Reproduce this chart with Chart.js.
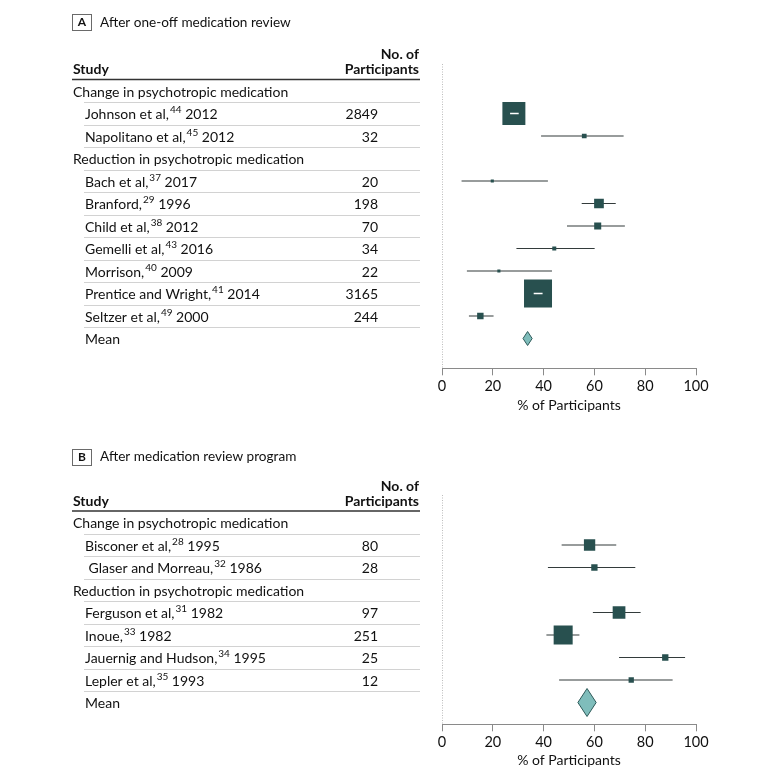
<!DOCTYPE html>
<html><head><meta charset="utf-8">
<script src="https://cdn.jsdelivr.net/npm/chart.js@4.4.1/dist/chart.umd.min.js"></script>
<style>
html,body{margin:0;padding:0;background:#fff;}
#wrap{position:relative;width:780px;height:780px;overflow:hidden;}
canvas{position:absolute;left:0;}
</style></head><body>
<div id="wrap">
<canvas id="cA" width="780" height="432" style="top:0;width:780px;height:432px"></canvas>
<canvas id="cB" width="780" height="348" style="top:432px;width:780px;height:348px"></canvas>
</div>
<script>
// ---------- Panel A data ----------
const groupsA = ['Change in psychotropic medication', 'Reduction in psychotropic medication'];
const studiesA = ['Johnson et al,', 'Napolitano et al,', 'Bach et al,', 'Branford,', 'Child et al,', 'Gemelli et al,', 'Morrison,', 'Prentice and Wright,', 'Seltzer et al,'];
const refsA = ['44', '45', '37', '29', '38', '43', '40', '41', '49'];
const yearsA = ['2012', '2012', '2017', '1996', '2012', '2016', '2009', '2014', '2000'];
const groupOfA = [0, 0, 1, 1, 1, 1, 1, 1, 1];
const participantsA = [2849, 32, 20, 198, 70, 34, 22, 3165, 244];
const estimateA = [28.3, 56.0, 19.8, 61.8, 61.3, 44.2, 22.4, 37.8, 15.1];
const lowerA = [26.8, 39.0, 7.7, 55.0, 49.2, 29.3, 9.8, 36.1, 10.6];
const upperA = [30.2, 71.5, 41.7, 68.4, 72.0, 60.1, 43.3, 39.6, 20.3];
const weightA = [33.0, 1.4, 0.6, 5.9, 3.1, 1.0, 0.6, 49.0, 2.6];
const meanA = [33.7, 31.9, 35.5]; // estimate, lower, upper

// ---------- Panel B data ----------
const groupsB = ['Change in psychotropic medication', 'Reduction in psychotropic medication'];
const studiesB = ['Bisconer et al,', ' Glaser and Morreau,', 'Ferguson et al,', 'Inoue,', 'Jauernig and Hudson,', 'Lepler et al,'];
const refsB = ['28', '32', '31', '33', '34', '35'];
const yearsB = ['1995', '1986', '1982', '1982', '1995', '1993'];
const groupOfB = [0, 0, 1, 1, 1, 1];
const participantsB = [80, 28, 97, 251, 25, 12];
const estimateB = [58.1, 60.0, 69.7, 47.7, 87.9, 74.5];
const lowerB = [47.1, 41.7, 59.4, 41.1, 69.7, 46.1];
const upperB = [68.6, 76.1, 78.2, 54.1, 95.7, 90.8];
const weightB = [8.0, 2.5, 10.1, 22.6, 2.5, 1.75];
const meanB = [57.1, 53.5, 60.7];

const xTicks = [0, 20, 40, 60, 80, 100];

// ---------- styling ----------
const FONT = 'Lato, "Liberation Sans", Arial, sans-serif';
const TXT = '#111111';
const BOX = '#28504f';
const CI = '#333b3b';
const DIA_FILL = '#7fbdbb';
const DIA_LINE = '#2e5a59';
const STEP = 22.5;
const PLOT_L = 442, PLOT_R = 696;

function makePanel(id, cfg, d) {
  const rows = [];
  const rowOf = [];
  d.groups.forEach((g, gi) => {
    rows.push({ kind: 'group', label: g });
    d.studies.forEach((s, si) => {
      if (d.groupOf[si] === gi) { rowOf[si] = rows.length; rows.push({ kind: 'study', idx: si }); }
    });
  });
  const meanRow = rows.length;
  rows.push({ kind: 'mean' });

  const ymin = -(cfg.row0 - cfg.top) / STEP;
  const ymax = ymin + (cfg.bottom - cfg.top) / STEP;
  const pxPerUnit = (PLOT_R - PLOT_L) / 100;

  const datasets = [];
  datasets.push({ type: 'line', data: [{ x: 0, y: ymin }, { x: 0, y: ymax }], borderColor: '#7d7d7d', borderWidth: 1, borderDash: [1, 1.5], pointRadius: 0, order: 5 });
  d.studies.forEach((s, si) => {
    datasets.push({ type: 'line', data: [{ x: d.lower[si], y: rowOf[si] }, { x: d.upper[si], y: rowOf[si] }], borderColor: CI, borderWidth: 1.2, pointRadius: 0, order: 4 });
  });
  const sides = d.weight.map(w => 4 * Math.sqrt(w));
  datasets.push({
    type: 'scatter',
    data: d.studies.map((s, si) => ({ x: d.estimate[si], y: rowOf[si] })),
    pointStyle: 'rect',
    pointRadius: sides.map(s => s / Math.SQRT2),
    pointHoverRadius: sides.map(s => s / Math.SQRT2),
    backgroundColor: BOX, borderColor: BOX, borderWidth: 0, order: 3
  });
  d.studies.forEach((s, si) => {
    const half = sides[si] / 2 / pxPerUnit;
    if (d.lower[si] > d.estimate[si] - half && d.upper[si] < d.estimate[si] + half) {
      datasets.push({ type: 'line', data: [{ x: d.lower[si], y: rowOf[si] }, { x: d.upper[si], y: rowOf[si] }], borderColor: '#ffffff', borderWidth: 1.6, pointRadius: 0, order: 1 });
    }
  });
  const h = cfg.diamondHalfPx / STEP;
  const [m, mlo, mhi] = d.mean;
  datasets.push({
    type: 'line',
    data: [{ x: mlo, y: meanRow }, { x: m, y: meanRow - h }, { x: mhi, y: meanRow }, { x: m, y: meanRow + h }, { x: mlo, y: meanRow }],
    borderColor: DIA_LINE, borderWidth: 1, backgroundColor: DIA_FILL, fill: 'shape', pointRadius: 0, tension: 0, order: 2
  });

  const tablePlugin = {
    id: 'table_' + id,
    afterDraw(chart) {
      const ctx = chart.ctx;
      const ys = chart.scales.y;
      const py = r => ys.getPixelForValue(r);
      const y0 = py(0);
      ctx.save();
      ctx.fillStyle = TXT;
      ctx.textBaseline = 'middle';
      const ty = y0 + cfg.titleOffset;
      ctx.strokeStyle = '#6a6a6a';
      ctx.lineWidth = 1;
      ctx.strokeRect(72.5, Math.round(ty - 8) + 0.5, 19, 16);
      ctx.font = `bold 12px ${FONT}`;
      ctx.textAlign = 'center';
      ctx.fillText(cfg.letter, 82, ty + 0.5);
      ctx.font = `13.6px ${FONT}`;
      ctx.textAlign = 'left';
      ctx.fillText(cfg.title, 100, ty + 0.5);
      ctx.font = `bold 14px ${FONT}`;
      ctx.fillText('Study', 73, y0 + cfg.hdr2);
      ctx.textAlign = 'right';
      ctx.fillText('No. of', 419, y0 + cfg.hdr1);
      ctx.fillText('Participants', 419, y0 + cfg.hdr2);
      ctx.strokeStyle = '#333';
      ctx.lineWidth = 1.6;
      ctx.beginPath();
      ctx.moveTo(72, y0 - 11.5); ctx.lineTo(420, y0 - 11.5);
      ctx.stroke();
      ctx.strokeStyle = '#d2d2d2';
      ctx.lineWidth = 1;
      for (let r = 0; r < meanRow; r++) {
        const yy = Math.round(py(r + 0.5)) + 0.5;
        ctx.beginPath(); ctx.moveTo(84, yy); ctx.lineTo(420, yy); ctx.stroke();
      }
      rows.forEach((row, r) => {
        const yy = py(r) + 1;
        ctx.textAlign = 'left';
        ctx.font = `14px ${FONT}`;
        if (row.kind === 'group') {
          ctx.fillText(row.label, 73, yy);
        } else if (row.kind === 'mean') {
          ctx.fillText('Mean', 85, yy);
        } else {
          const si = row.idx;
          const name = d.studies[si];
          ctx.fillText(name, 85, yy);
          const w = ctx.measureText(name).width;
          ctx.font = `10px ${FONT}`;
          ctx.fillText(d.refs[si], 85 + w + 1, yy - 4.5);
          const w2 = ctx.measureText(d.refs[si]).width;
          ctx.font = `14px ${FONT}`;
          ctx.fillText(' ' + d.years[si], 85 + w + 1 + w2, yy);
          ctx.textAlign = 'right';
          ctx.fillText(String(d.participants[si]), 378, yy);
        }
      });
      ctx.restore();
    }
  };

  return new Chart(document.getElementById(id), {
    type: 'scatter',
    data: { datasets },
    options: {
      responsive: false, animation: false, devicePixelRatio: 1, events: [],
      layout: { padding: { left: PLOT_L, right: 780 - PLOT_R, top: cfg.top, bottom: 0 } },
      plugins: { legend: { display: false }, tooltip: { enabled: false } },
      scales: {
        x: {
          type: 'linear', position: 'bottom', min: 0, max: 100,
          afterBuildTicks: s => { s.ticks = xTicks.map(v => ({ value: v })); },
          ticks: { color: TXT, font: { family: FONT, size: 14.5 }, padding: 2 },
          grid: { drawOnChartArea: false, drawTicks: true, tickLength: 7, color: '#8a8a8a', lineWidth: 1 },
          border: { color: '#8a8a8a', width: 1 },
          title: { display: true, text: '% of Participants', color: TXT, font: { family: FONT, size: 14 }, padding: { top: 0, bottom: cfg.axisTitlePad } },
          afterFit: s => { s.height = cfg.H - cfg.bottom; }
        },
        y: { type: 'linear', reverse: true, min: ymin, max: ymax, display: false }
      }
    },
    plugins: [tablePlugin]
  });
}

makePanel('cA',
  { H: 432, top: 64, bottom: 368.3, row0: 91, titleOffset: -69, hdr1: -37, hdr2: -21.5, letter: 'A', title: 'After one-off medication review', axisTitlePad: 18.6, diamondHalfPx: 7 },
  { groups: groupsA, studies: studiesA, refs: refsA, years: yearsA, groupOf: groupOfA, participants: participantsA,
    estimate: estimateA, lower: lowerA, upper: upperA, weight: weightA, mean: meanA });

makePanel('cB',
  { H: 348, top: 63, bottom: 292.3, row0: 90.5, titleOffset: -66, hdr1: -36, hdr2: -21, letter: 'B', title: 'After medication review program', axisTitlePad: 11.6, diamondHalfPx: 14 },
  { groups: groupsB, studies: studiesB, refs: refsB, years: yearsB, groupOf: groupOfB, participants: participantsB,
    estimate: estimateB, lower: lowerB, upper: upperB, weight: weightB, mean: meanB });
</script>
</body></html>
